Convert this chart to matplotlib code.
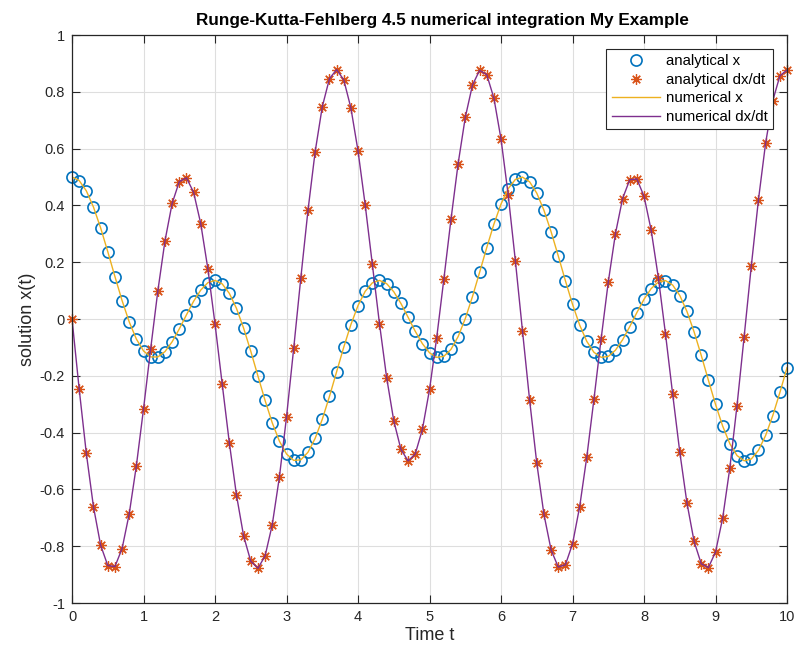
import matplotlib
matplotlib.use("Agg")
from matplotlib import pyplot as plt

# time points of the integrator output
t = [0.0, 0.1, 0.2, 0.3, 0.4, 0.5, 0.6, 0.7, 0.8, 0.9,
     1.0, 1.1, 1.2, 1.3, 1.4, 1.5, 1.6, 1.7, 1.8, 1.9,
     2.0, 2.1, 2.2, 2.3, 2.4, 2.5, 2.6, 2.7, 2.8, 2.9,
     3.0, 3.1, 3.2, 3.3, 3.4, 3.5, 3.6, 3.7, 3.8, 3.9,
     4.0, 4.1, 4.2, 4.3, 4.4, 4.5, 4.6, 4.7, 4.8, 4.9,
     5.0, 5.1, 5.2, 5.3, 5.4, 5.5, 5.6, 5.7, 5.8, 5.9,
     6.0, 6.1, 6.2, 6.3, 6.4, 6.5, 6.6, 6.7, 6.8, 6.9,
     7.0, 7.1, 7.2, 7.3, 7.4, 7.5, 7.6, 7.7, 7.8, 7.9,
     8.0, 8.1, 8.2, 8.3, 8.4, 8.5, 8.6, 8.7, 8.8, 8.9,
     9.0, 9.1, 9.2, 9.3, 9.4, 9.5, 9.6, 9.7, 9.8, 9.9,
     10.0]

x = [0.5000, 0.4876, 0.4514, 0.3942, 0.3209, 0.2371, 0.1495, 0.0649, -0.0102, -0.0706,
     -0.1124, -0.1335, -0.1336, -0.1146, -0.0801, -0.0350, 0.0146, 0.0623, 0.1019, 0.1279,
     0.1360, 0.1238, 0.0904, 0.0374, -0.0323, -0.1136, -0.2007, -0.2869, -0.3654, -0.4299,
     -0.4753, -0.4979, -0.4957, -0.4692, -0.4203, -0.3530, -0.2728, -0.1860, -0.0994, -0.0196,
     0.0476, 0.0975, 0.1273, 0.1360, 0.1246, 0.0960, 0.0547, 0.0062, -0.0431, -0.0868,
     -0.1190, -0.1350, -0.1314, -0.1068, -0.0617, 0.0016, 0.0787, 0.1642, 0.2516, 0.3341,
     0.4051, 0.4590, 0.4914, 0.4997, 0.4831, 0.4431, 0.3829, 0.3073, 0.2225, 0.1349,
     0.0515, -0.0215, -0.0790, -0.1174, -0.1349, -0.1317, -0.1098, -0.0731, -0.0268, 0.0229,
     0.0697, 0.1073, 0.1306, 0.1354, 0.1196, 0.0828, 0.0267, -0.0453, -0.1280, -0.2155,
     -0.3008, -0.3774, -0.4390, -0.4807, -0.4992, -0.4929, -0.4624, -0.4101, -0.3402, -0.2585,
     -0.1712]

dxdt = [0.0000, -0.2465, -0.4732, -0.6613, -0.7964, -0.8680, -0.8716, -0.8085, -0.6858, -0.5164,
        -0.3161, -0.1045, 0.0987, 0.2752, 0.4071, 0.4838, 0.4972, 0.4464, 0.3361, 0.1764,
        -0.0177, -0.2284, -0.4358, -0.6203, -0.7641, -0.8531, -0.8778, -0.8343, -0.7247, -0.5570,
        -0.3444, -0.1037, 0.1453, 0.3826, 0.5888, 0.7475, 0.8463, 0.8784, 0.8425, 0.7434,
        0.5916, 0.4020, 0.1927, -0.0166, -0.2061, -0.3585, -0.4593, -0.4995, -0.4752, -0.3887,
        -0.2480, -0.0661, 0.1401, 0.3512, 0.5475, 0.7102, 0.8235, 0.8757, 0.8606, 0.7779,
        0.6331, 0.4373, 0.2060, -0.0420, -0.2866, -0.5079, -0.6881, -0.8130, -0.8734, -0.8655,
        -0.7917, -0.6603, -0.4844, -0.2810, -0.0692, 0.1309, 0.3006, 0.4243, 0.4905, 0.4931,
        0.4319, 0.3124, 0.1457, -0.0526, -0.2641, -0.4689, -0.6477, -0.7832, -0.8619, -0.8753,
        -0.8203, -0.7003, -0.5240, -0.3053, -0.0619, 0.1866, 0.4199, 0.6192, 0.7685, 0.8565,
        0.8770]

xticks = [0, 1, 2, 3, 4, 5, 6, 7, 8, 9, 10]
yticks = [-1, -0.8, -0.6, -0.4, -0.2, 0, 0.2, 0.4, 0.6, 0.8, 1]
ytick_labels = ['-1', '-0.8', '-0.6', '-0.4', '-0.2', '0', '0.2', '0.4', '0.6', '0.8', '1']
labels = ['analytical x', 'analytical dx/dt', 'numerical x', 'numerical dx/dt']

plt.rcParams['font.family'] = ['Liberation Sans', 'DejaVu Sans']
dark = '#262626'

fig = plt.figure(figsize=(7.95, 6.5), dpi=100)
ax = fig.add_axes([0.0906, 0.0723, 0.8994, 0.8738])

ax.plot(t, x, linestyle='none', marker='o', markersize=8, markerfacecolor='none',
        markeredgecolor='#0072BD', markeredgewidth=1.2, label=labels[0], clip_on=False)
ax.plot(t, dxdt, linestyle='none', marker=(8, 2, 0), markersize=7.5,
        color='#D95319', markeredgewidth=0.9, label=labels[1], clip_on=False)
ax.plot(t, x, color='#EDB120', linewidth=1.0, label=labels[2])
ax.plot(t, dxdt, color='#7E2F8E', linewidth=1.0, label=labels[3])

ax.set_xlim(0, 10)
ax.set_ylim(-1, 1)
ax.set_xticks(xticks)
ax.set_yticks(yticks)
ax.set_yticklabels(ytick_labels)
ax.grid(True, color='#dedede', linewidth=0.8)
ax.set_axisbelow(True)
ax.tick_params(direction='in', top=True, right=True, length=6, width=0.8,
               labelsize=10.5, colors=dark, pad=5)
for sp in ax.spines.values():
    sp.set_color(dark)
    sp.set_linewidth(0.9)

ax.set_title('Runge-Kutta-Fehlberg 4.5 numerical integration My Example',
             fontsize=12.3, fontweight='bold', color='#000000', pad=7, x=0.518)
ax.set_xlabel('Time t', fontsize=13, color=dark, labelpad=2)
ax.set_ylabel('solution x(t)', fontsize=13, color=dark, labelpad=3)

leg = ax.legend(loc='upper right', bbox_to_anchor=(0.980, 0.975), borderaxespad=0,
                fontsize=10.8, fancybox=False, framealpha=1, edgecolor=dark,
                handlelength=3.2, labelspacing=0.3, borderpad=0.35, handletextpad=0.4)
leg.get_frame().set_linewidth(0.8)

fig.savefig('out.png', dpi=100, facecolor='white')
